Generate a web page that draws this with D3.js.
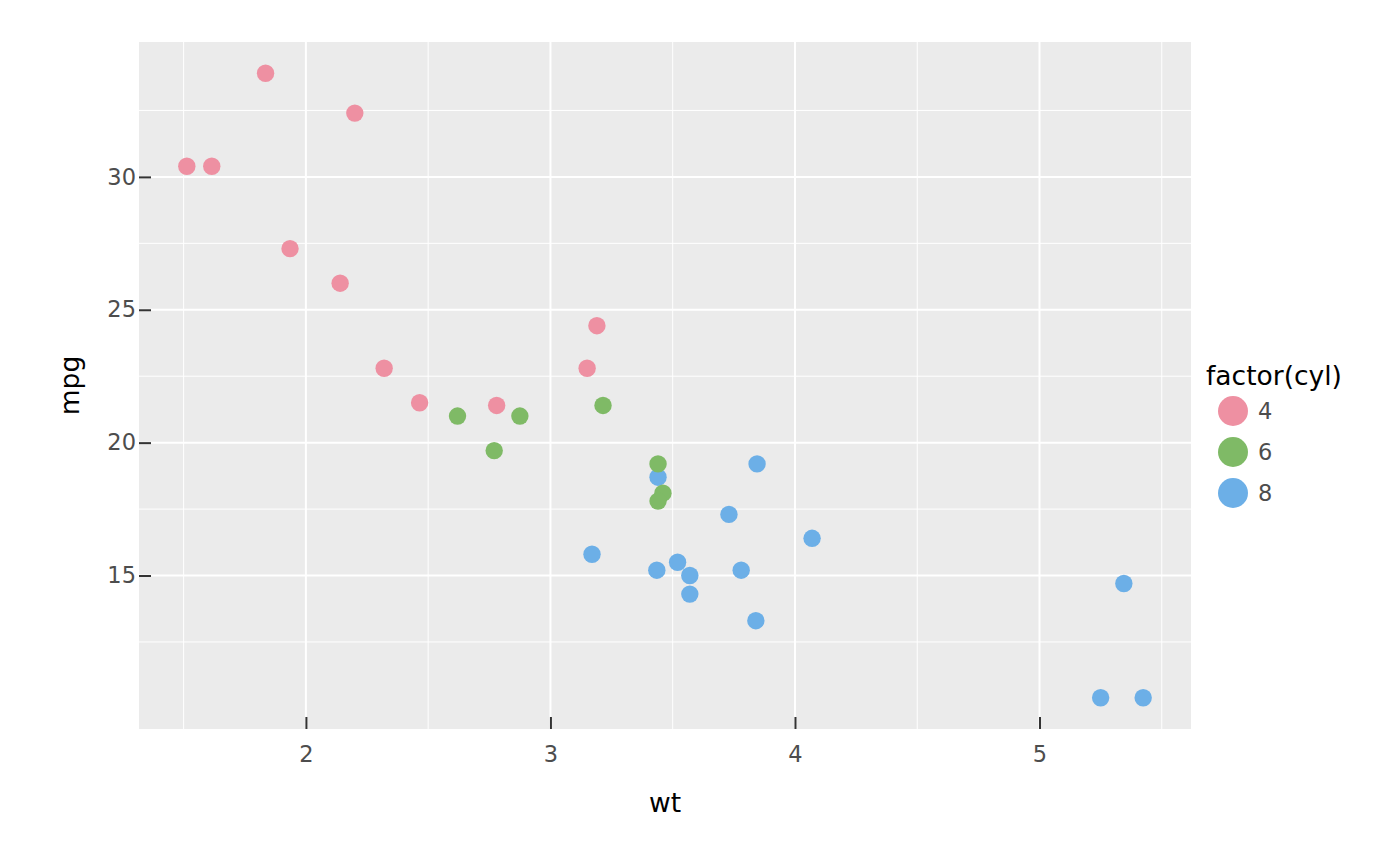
<!DOCTYPE html>
<html>
<head>
<meta charset="utf-8">
<style>
    body { margin: 0; background: white; }
    svg { display: block; }
</style>
</head>
<body>
<svg width="1400" height="866"></svg>
<script src="https://cdnjs.cloudflare.com/ajax/libs/d3/7.8.5/d3.min.js"></script>
<script>
    // mtcars: weight (1000 lbs), mpg, cylinders
    let wt = [2.620, 2.875, 2.320, 3.215, 3.440, 3.460, 3.570, 3.190, 3.150, 3.440, 3.440, 4.070, 3.730, 3.780, 5.250, 5.424, 5.345, 2.200, 1.615, 1.835, 2.465, 3.520, 3.435, 3.840, 3.845, 1.935, 2.140, 1.513, 3.170, 2.770, 3.570, 2.780];
    let mpg = [21.0, 21.0, 22.8, 21.4, 18.7, 18.1, 14.3, 24.4, 22.8, 19.2, 17.8, 16.4, 17.3, 15.2, 10.4, 10.4, 14.7, 32.4, 30.4, 33.9, 21.5, 15.5, 15.2, 13.3, 19.2, 27.3, 26.0, 30.4, 15.8, 19.7, 15.0, 21.4];
    let cyl = [6, 6, 4, 6, 8, 6, 8, 4, 4, 6, 6, 8, 8, 8, 8, 8, 8, 4, 4, 4, 4, 8, 8, 8, 8, 4, 4, 4, 8, 6, 8, 4];
    let cylLevels = ["4", "6", "8"];
    let cylColors = ["#ee90a2", "#7fba66", "#6cafe7"];
    let xTicks = [2, 3, 4, 5];
    let yTicks = [15, 20, 25, 30];
    let xMinor = [1.5, 2.5, 3.5, 4.5, 5.5];
    let yMinor = [12.5, 17.5, 22.5, 27.5, 32.5];

    let font = "'DejaVu Sans', 'Noto Sans', sans-serif";
    let svg = d3.select("svg");
    let panel = { left: 139, right: 1191, top: 42, bottom: 729 };

    let data = wt.map((w, i) => ({ wt: w, mpg: mpg[i], cyl: String(cyl[i]) }));

    function expand(ext) {
        let pad = (ext[1] - ext[0]) * 0.05;
        return [ext[0] - pad, ext[1] + pad];
    }

    let x = d3.scaleLinear()
        .domain(expand(d3.extent(wt)))
        .range([panel.left, panel.right]);

    let y = d3.scaleLinear()
        .domain(expand(d3.extent(mpg)))
        .range([panel.bottom, panel.top]);

    let color = d3.scaleOrdinal().domain(cylLevels).range(cylColors);

    // panel background
    svg.append("rect")
        .attr("x", panel.left)
        .attr("y", panel.top)
        .attr("width", panel.right - panel.left)
        .attr("height", panel.bottom - panel.top)
        .style("fill", "#ebebeb");

    let grid = svg.append("g");
    grid.selectAll(".xminor").data(xMinor.filter(d => x(d) < panel.right)).join("line")
        .attr("x1", d => x(d)).attr("x2", d => x(d))
        .attr("y1", panel.top).attr("y2", panel.bottom)
        .style("stroke", "white").style("stroke-width", 1);
    grid.selectAll(".yminor").data(yMinor).join("line")
        .attr("x1", panel.left).attr("x2", panel.right)
        .attr("y1", d => y(d)).attr("y2", d => y(d))
        .style("stroke", "white").style("stroke-width", 1);
    grid.selectAll(".xmajor").data(xTicks).join("line")
        .attr("x1", d => x(d)).attr("x2", d => x(d))
        .attr("y1", panel.top).attr("y2", panel.bottom)
        .style("stroke", "white").style("stroke-width", 2);
    grid.selectAll(".ymajor").data(yTicks).join("line")
        .attr("x1", panel.left).attr("x2", panel.right)
        .attr("y1", d => y(d)).attr("y2", d => y(d))
        .style("stroke", "white").style("stroke-width", 2);

    // points
    svg.append("g")
        .selectAll("circle")
        .data(data)
        .join("circle")
        .attr("cx", d => x(d.wt))
        .attr("cy", d => y(d.mpg))
        .attr("r", 8.7)
        .style("fill", d => color(d.cyl));

    // axes (ticks drawn into the panel)
    let xAxis = svg.append("g")
        .attr("transform", `translate(0,${panel.bottom})`)
        .call(d3.axisBottom(x).tickValues(xTicks).tickFormat(d3.format("d")).tickSize(-12).tickPadding(17));
    xAxis.select(".domain").remove();

    let yAxis = svg.append("g")
        .attr("transform", `translate(${panel.left},0)`)
        .call(d3.axisLeft(y).tickValues(yTicks).tickFormat(d3.format("d")).tickSize(-12));
    yAxis.select(".domain").remove();
    yAxis.selectAll(".tick text").attr("x", -3);

    svg.selectAll(".tick line").style("stroke", "#333").style("stroke-width", 2);
    svg.selectAll(".tick text")
        .style("font-family", font)
        .style("font-size", "22.5px")
        .style("fill", "#4d4d4d");

    svg.append("text")
        .attr("x", (panel.left + panel.right) / 2)
        .attr("y", 812)
        .attr("text-anchor", "middle")
        .style("font-family", font).style("font-size", "26.5px").style("fill", "black")
        .text("wt");

    svg.append("text")
        .attr("transform", `translate(79,${(panel.top + panel.bottom) / 2}) rotate(-90)`)
        .attr("text-anchor", "middle")
        .style("font-family", font).style("font-size", "26.5px").style("fill", "black")
        .text("mpg");

    // legend
    let legend = svg.append("g");
    legend.append("text")
        .attr("x", 1206)
        .attr("y", 385)
        .style("font-family", font).style("font-size", "26.5px").style("fill", "black")
        .text("factor(cyl)");

    let keys = legend.selectAll(".key").data(cylLevels).join("g")
        .attr("transform", (d, i) => `translate(1233,${411 + i * 41})`);
    keys.append("circle")
        .attr("r", 15)
        .style("fill", d => color(d));
    keys.append("text")
        .attr("x", 25)
        .attr("dy", "0.36em")
        .style("font-family", font)
        .style("font-size", "22.5px")
        .style("fill", "#4d4d4d")
        .text(d => d);
</script>
</body>
</html>
